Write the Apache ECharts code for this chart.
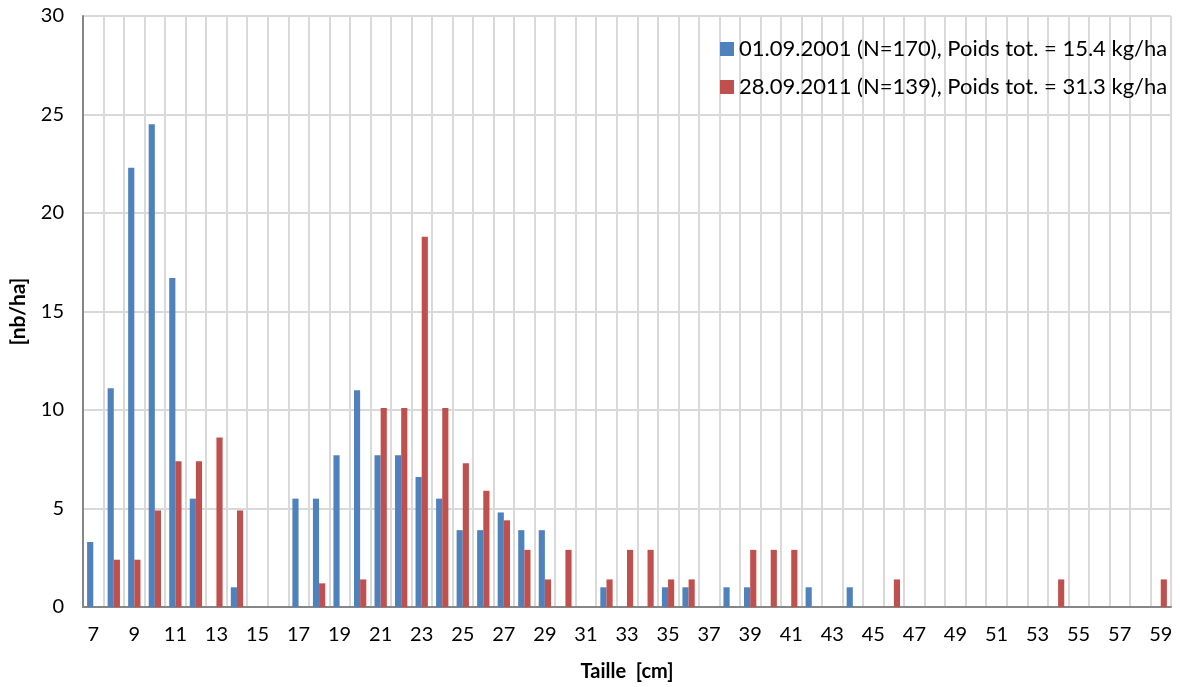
<!DOCTYPE html>
<html>
<head>
<meta charset="utf-8">
<script src="https://cdn.jsdelivr.net/npm/echarts@6/dist/echarts.min.js"></script>
<style>
html,body{margin:0;padding:0;background:#fff;}
#chart{width:1180px;height:687px;}
</style>
</head>
<body>
<div id="chart"></div>
<script>
const categories = ['7','8','9','10','11','12','13','14','15','16','17','18','19','20','21','22','23','24','25','26','27','28','29','30','31','32','33','34','35','36','37','38','39','40','41','42','43','44','45','46','47','48','49','50','51','52','53','54','55','56','57','58','59'];
const series2001Name = '01.09.2001 (N=170), Poids tot. = 15.4 kg/ha';
const series2011Name = '28.09.2011 (N=139), Poids tot. = 31.3 kg/ha';
const values2001 = [3.3,11.1,22.3,24.5,16.7,5.5,0,1.0,0,0,5.5,5.5,7.7,11.0,7.7,7.7,6.6,5.5,3.9,3.9,4.8,3.9,3.9,0,0,1.0,0,0,1.0,1.0,0,1.0,1.0,0,0,1.0,0,1.0,0,0,0,0,0,0,0,0,0,0,0,0,0,0,0];
const values2011 = [0,2.4,2.4,4.9,7.4,7.4,8.6,4.9,0,0,0,1.2,0,1.4,10.1,10.1,18.8,10.1,7.3,5.9,4.4,2.9,1.4,2.9,0,1.4,2.9,2.9,1.4,1.4,0,0,2.9,2.9,2.9,0,0,0,0,1.4,0,0,0,0,0,0,0,1.4,0,0,0,0,1.4];
const yTicks = [0,5,10,15,20,25,30];

const FONT = 'Lato, "Open Sans", sans-serif';
const chart = echarts.init(document.getElementById('chart'));
chart.setOption({
  animation: false,
  textStyle: {fontFamily: FONT},
  grid: {left: 83, right: 9, top: 16, bottom: 80},
  legend: {
    orient: 'vertical',
    left: 715,
    top: 33,
    itemWidth: 14,
    itemHeight: 14,
    itemGap: 16,
    icon: 'rect',
    textStyle: {fontFamily: FONT, fontSize: 22, color: '#000'},
    data: [series2001Name, series2011Name]
  },
  xAxis: {
    type: 'category',
    data: categories,
    name: 'Taille  [cm]',
    nameLocation: 'middle',
    nameGap: 55,
    nameTextStyle: {fontFamily: FONT, fontSize: 20, fontWeight: 'bold', color: '#000'},
    axisLine: {lineStyle: {color: '#868686', width: 2}},
    axisTick: {show: false},
    axisLabel: {interval: 1, fontSize: 20, color: '#000', margin: 18, fontFamily: FONT},
    splitLine: {show: true, interval: 0, lineStyle: {color: '#d9d9d9', width: 2}}
  },
  yAxis: {
    type: 'value',
    min: yTicks[0],
    max: yTicks[yTicks.length - 1],
    interval: 5,
    name: '[nb/ha]',
    nameLocation: 'middle',
    nameGap: 54,
    nameRotate: 90,
    nameTextStyle: {fontFamily: FONT, fontSize: 21, fontWeight: 'bold', color: '#000'},
    axisLine: {show: true, lineStyle: {color: '#868686', width: 2}},
    axisTick: {show: false},
    axisLabel: {fontSize: 20, color: '#000', margin: 19, fontFamily: FONT},
    splitLine: {show: true, lineStyle: {color: '#d9d9d9', width: 2}}
  },
  series: [
    {name: series2001Name, type: 'bar', data: values2001, barGap: '0%', barCategoryGap: '40%',
     itemStyle: {color: '#4f81bd'}},
    {name: series2011Name, type: 'bar', data: values2011, barGap: '0%', barCategoryGap: '40%',
     itemStyle: {color: '#c0504d'}}
  ]
});
</script>
</body>
</html>
